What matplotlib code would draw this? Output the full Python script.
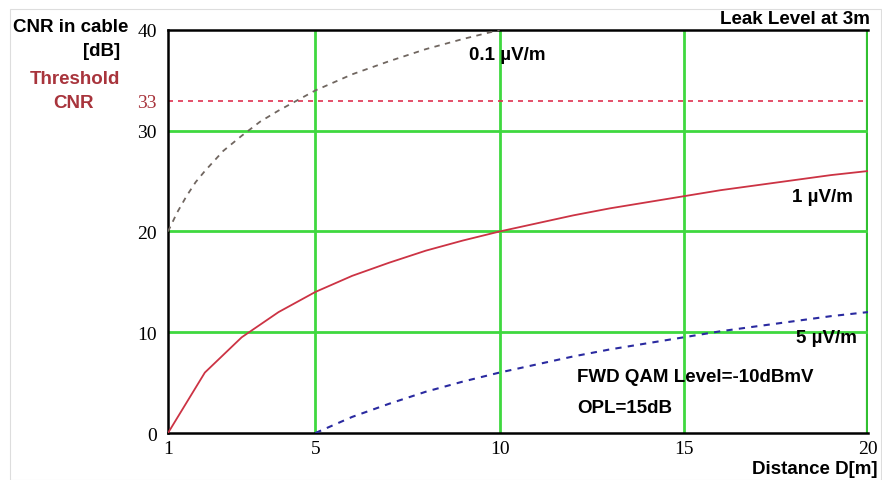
import matplotlib
matplotlib.use("Agg")
import matplotlib.pyplot as plt
from matplotlib.patches import Rectangle

# distance in metres
dist = [1, 2, 3, 4, 5, 6, 7, 8, 9, 10, 11, 12, 13, 14, 15, 16, 17, 18, 19, 20]
# CNR in cable [dB] per leak level
cnr_1uv = [0.0, 6.0, 9.5, 12.0, 14.0, 15.6, 16.9, 18.1, 19.1, 20.0,
           20.8, 21.6, 22.3, 22.9, 23.5, 24.1, 24.6, 25.1, 25.6, 26.0]
dist_01 = [1, 1.25, 1.5, 1.75, 2, 2.5, 3, 3.5, 4, 5, 6, 7, 8, 9, 10]
cnr_01uv = [20.0, 21.9, 23.5, 24.9, 26.0, 28.0, 29.5, 30.9, 32.0, 34.0,
            35.6, 36.9, 38.1, 39.1, 40.0]
dist_5 = [5, 6, 7, 8, 9, 10, 11, 12, 13, 14, 15, 16, 17, 18, 19, 20]
cnr_5uv = [0.0, 1.6, 2.9, 4.1, 5.1, 6.0, 6.8, 7.6, 8.3, 8.9,
           9.5, 10.1, 10.6, 11.1, 11.6, 12.0]
threshold = 33
xticks = [1, 5, 10, 15, 20]
yticks = [0, 10, 20, 30, 40]

GREEN = "#3fd83f"
DARKRED = "#a8343c"
bold = {"family": "Liberation Sans", "weight": "bold", "size": 13.5}
serif = {"family": "Liberation Serif", "size": 14}

fig = plt.figure(figsize=(8.82, 4.81), dpi=100)
fig.patches.append(Rectangle((0.011, 0.0), 0.988, 0.979, transform=fig.transFigure,
                             fill=False, edgecolor="#dddddd", linewidth=0.8))
ax = fig.add_axes([0.1905, 0.0977, 0.7936, 0.8379])

ax.set_xlim(1, 20)
ax.set_ylim(0, 40)

# grid
for x in [5, 10, 15]:
    ax.axvline(x, color=GREEN, linewidth=2, zorder=1)
ax.axvline(20, color="#30c030", linewidth=3, zorder=1)
for y in [10, 20, 30]:
    ax.axhline(y, color=GREEN, linewidth=2, zorder=1)

ax.axhline(threshold, color="#e03050", linewidth=1.2, linestyle=(0, (3, 3)), zorder=2)

ax.plot(dist, cnr_1uv, color="#cc3344", linewidth=1.3, zorder=3)
ax.plot(dist_01, cnr_01uv, color="#706660", linewidth=1.3, linestyle=(0, (3, 3)), zorder=3)
ax.plot(dist_5, cnr_5uv, color="#2a2aa0", linewidth=1.5, linestyle=(0, (3, 3)), zorder=3)

for side in ["left", "bottom", "top"]:
    ax.spines[side].set_color("black")
    ax.spines[side].set_linewidth(1.8)
ax.spines["right"].set_visible(False)

ax.set_xticks(xticks)
ax.set_yticks(yticks + [threshold])
ax.tick_params(axis="y", length=0, pad=8)
ax.tick_params(axis="x", length=0, pad=5)
ax.set_xticklabels([str(v) for v in xticks], fontdict=serif)
ax.set_yticklabels([str(v) for v in yticks] + [str(threshold)], fontdict=serif)
ax.get_yticklabels()[-1].set_color(DARKRED)

# annotations
fig.text(128 / 882, 1 - 27 / 481, "CNR in cable", ha="right", va="center", **bold)
fig.text(120 / 882, 1 - 51 / 481, "[dB]", ha="right", va="center", **bold)
fig.text(75 / 882, 1 - 79 / 481, "Threshold", ha="center", va="center", color=DARKRED, **bold)
fig.text(73 / 882, 1 - 104 / 481, "CNR", ha="center", va="center", color=DARKRED, **bold)
fig.text(870 / 882, 1 - 20 / 481, "Leak Level at 3m", ha="right", va="center", **bold)
fig.text(877 / 882, 1 - 470 / 481, "Distance D[m]", ha="right", va="center", **bold)

ax.text(10.2, 37.6, "0.1 µV/m", ha="center", va="center", **bold)
ax.text(19.6, 23.5, "1 µV/m", ha="right", va="center", **bold)
ax.text(19.7, 9.5, "5 µV/m", ha="right", va="center", **bold)
ax.text(12.1, 5.6, "FWD QAM Level=-10dBmV", ha="left", va="center", **bold)
ax.text(12.1, 2.5, "OPL=15dB", ha="left", va="center", **bold)

fig.savefig("out.png", dpi=100)
